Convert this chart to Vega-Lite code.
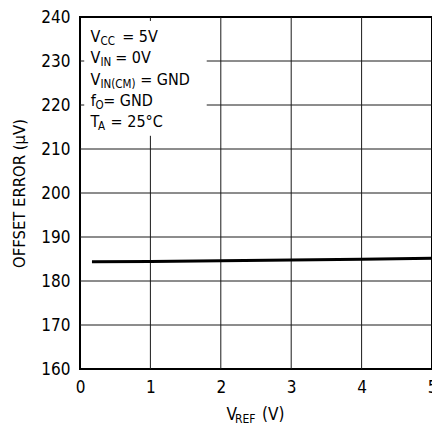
{
  "$schema": "https://vega.github.io/schema/vega-lite/v6.json",
  "width": 352,
  "height": 352,
  "autosize": {"type": "none"},
  "padding": {"left": 80, "top": 17, "right": 0, "bottom": 54},
  "background": "white",
  "config": {"view": {"stroke": "black", "strokeWidth": 2}, "font": "DejaVu Sans Condensed, Roboto"},
  "datasets": {
    "grid": [
      {"x": 1, "x2": 1, "y": 160, "y2": 213},
      {"x": 2, "x2": 2, "y": 160, "y2": 240},
      {"x": 3, "x2": 3, "y": 160, "y2": 240},
      {"x": 4, "x2": 4, "y": 160, "y2": 240},
      {"x": 1, "x2": 1, "y": 239.1, "y2": 240},
      {"x": 0, "x2": 5, "y": 170, "y2": 170},
      {"x": 0, "x2": 5, "y": 180, "y2": 180},
      {"x": 0, "x2": 5, "y": 190, "y2": 190},
      {"x": 0, "x2": 5, "y": 200, "y2": 200},
      {"x": 0, "x2": 5, "y": 210, "y2": 210},
      {"x": 1.8, "x2": 5, "y": 220, "y2": 220},
      {"x": 1.8, "x2": 5, "y": 230, "y2": 230},
      {"x": 0, "x2": 0.06, "y": 220, "y2": 220},
      {"x": 0, "x2": 0.06, "y": 230, "y2": 230}
    ],
    "curve": [
      {"x": 0.17, "y": 184.4},
      {"x": 1, "y": 184.45},
      {"x": 2, "y": 184.6},
      {"x": 3, "y": 184.75},
      {"x": 4, "y": 184.95},
      {"x": 5, "y": 185.15}
    ],
    "notes": [
      {"x": 0.149, "y": 234.4, "t": "V"},
      {"x": 0.6, "y": 234.4, "t": "= 5V"},
      {"x": 0.149, "y": 229.5, "t": "V"},
      {"x": 0.5, "y": 229.5, "t": "= 0V"},
      {"x": 0.149, "y": 224.6, "t": "V"},
      {"x": 0.855, "y": 224.6, "t": "= GND"},
      {"x": 0.152, "y": 219.7, "t": "f"},
      {"x": 0.33, "y": 219.7, "t": "= GND"},
      {"x": 0.149, "y": 214.9, "t": "T"},
      {"x": 0.435, "y": 214.9, "t": "= 25°C"}
    ],
    "notesSub": [
      {"x": 0.291, "y": 234.4, "t": "CC"},
      {"x": 0.291, "y": 229.5, "t": "IN"},
      {"x": 0.291, "y": 224.6, "t": "IN(CM)"},
      {"x": 0.22, "y": 219.7, "t": "O"},
      {"x": 0.256, "y": 214.9, "t": "A"}
    ],
    "xtitle": [
      {"x": 2.08, "y": 148.4, "t": "V"},
      {"x": 2.585, "y": 148.4, "t": "(V)"}
    ],
    "xtitleSub": [
      {"x": 2.2, "y": 148.4, "t": "REF"}
    ],
    "heading": [
      {"x": 0.04, "y": 244.9, "t": "(Output Code 0)"}
    ]
  },
  "encoding": {
    "x": {
      "field": "x", "type": "quantitative",
      "scale": {"domain": [0, 5], "nice": false, "zero": false},
      "axis": {"values": [0, 1, 2, 3, 4, 5], "title": null, "grid": false, "ticks": false, "domain": false,
               "labelFontSize": 17, "labelColor": "black", "labelPadding": 10, "labelFlush": false, "labelOverlap": false,
               "labelFont": "DejaVu Sans Condensed, Roboto"}
    },
    "y": {
      "field": "y", "type": "quantitative",
      "scale": {"domain": [160, 240], "nice": false, "zero": false},
      "axis": {"values": [160, 170, 180, 190, 200, 210, 220, 230, 240], "title": "OFFSET ERROR (µV)",
               "grid": false, "ticks": false, "domain": false,
               "labelFontSize": 17, "labelColor": "black", "labelPadding": 10, "labelFlush": false, "labelOverlap": false,
               "labelFont": "DejaVu Sans Condensed, Roboto",
               "titleFont": "DejaVu Sans Condensed, Roboto", "titleFontSize": 16.5, "titleFontWeight": "normal", "titleColor": "black", "titlePadding": 13}
    }
  },
  "layer": [
    {
      "data": {"name": "grid"},
      "mark": {"type": "rule", "color": "#1a1a1a", "strokeWidth": 1},
      "encoding": {"x2": {"field": "x2"}, "y2": {"field": "y2"}}
    },
    {
      "data": {"name": "curve"},
      "mark": {"type": "line", "color": "black", "strokeWidth": 3},
      "encoding": {}
    },
    {
      "data": {"name": "notes"},
      "mark": {"type": "text", "align": "left", "baseline": "alphabetic", "fontSize": 16, "font": "DejaVu Sans Condensed, Roboto", "color": "black"},
      "encoding": {"text": {"field": "t"}}
    },
    {
      "data": {"name": "notesSub"},
      "mark": {"type": "text", "align": "left", "baseline": "alphabetic", "fontSize": 11.5, "dy": 3, "font": "DejaVu Sans Condensed, Roboto", "color": "black"},
      "encoding": {"text": {"field": "t"}}
    },
    {
      "data": {"name": "xtitle"},
      "mark": {"type": "text", "align": "left", "baseline": "alphabetic", "fontSize": 17, "font": "DejaVu Sans Condensed, Roboto", "color": "black"},
      "encoding": {"text": {"field": "t"}}
    },
    {
      "data": {"name": "xtitleSub"},
      "mark": {"type": "text", "align": "left", "baseline": "alphabetic", "fontSize": 12, "dy": 3, "font": "DejaVu Sans Condensed, Roboto", "color": "black"},
      "encoding": {"text": {"field": "t"}}
    },
    {
      "data": {"name": "heading"},
      "mark": {"type": "text", "align": "left", "baseline": "alphabetic", "fontSize": 22, "fontWeight": "bold", "font": "DejaVu Sans Condensed, Roboto", "color": "black"},
      "encoding": {"text": {"field": "t"}}
    }
  ]
}
